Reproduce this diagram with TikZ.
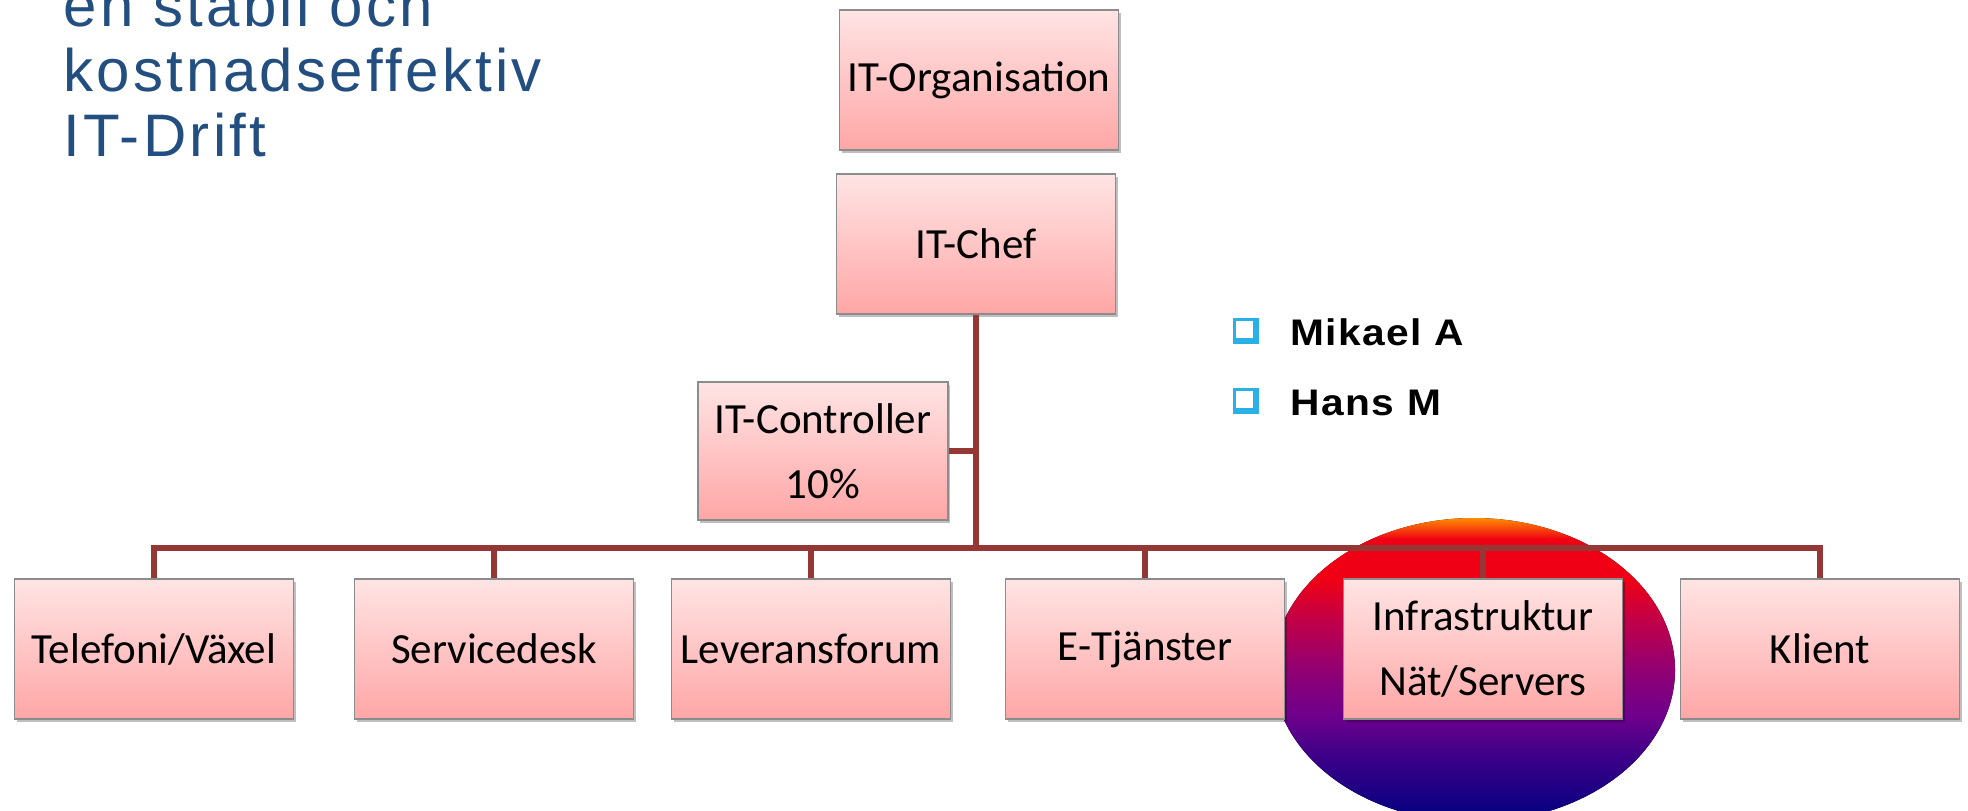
\documentclass[tikz,border=0pt]{standalone}
\usepackage{fontspec}
\setmainfont{Carlito}
\newfontfamily\titlefont[LetterSpace=5.5]{Liberation Sans}
\newfontfamily\namefont[LetterSpace=4,FakeStretch=1.1]{Liberation Sans}
\usetikzlibrary{positioning,shadows}
\tikzset{>=latex}
\usepackage{xcolor}
\definecolor{linkred}{RGB}{149,55,53}
\definecolor{boxtop}{RGB}{255,228,228}
\definecolor{boxbot}{RGB}{255,166,166}
\definecolor{titleblue}{RGB}{35,78,128}
\definecolor{bulletcyan}{RGB}{41,176,228}
\colorlet{boxline}{black!45}
\definecolor{focusA}{RGB}{255,140,0}
\definecolor{focusB}{RGB}{240,0,20}
\definecolor{focusC}{RGB}{195,0,70}
\definecolor{focusD}{RGB}{145,0,115}
\definecolor{focusE}{RGB}{110,0,140}
\definecolor{focusF}{RGB}{55,0,135}
\definecolor{focusG}{RGB}{0,0,128}
\pgfdeclareverticalshading{focus}{100bp}{color(0bp)=(focusG); color(25bp)=(focusG);
  color(35bp)=(focusF); color(42.5bp)=(focusE); color(50bp)=(focusD);
  color(58.5bp)=(focusC); color(65bp)=(focusB); color(71.5bp)=(focusB);
  color(75bp)=(focusA); color(100bp)=(focusA)}

\begin{document}
\begin{tikzpicture}[x=0.5pt, y=-0.5pt,
                    link/.style={linkred, line width=2.7pt},
                    unit/.style={draw=boxline, line width=0.7pt,
                                 top color=boxtop, bottom color=boxbot,
                                 minimum width=139.5pt, minimum height=70pt, inner sep=0pt,
                                 align=center, font=\fontsize{21.5}{32.5}\selectfont,
                                 drop shadow={shadow xshift=1pt, shadow yshift=-1.5pt,
                                              opacity=0.25, fill=black}},
                    title/.style={anchor=base west, inner sep=0pt, text=titleblue,
                                  font=\titlefont\fontsize{30}{36}\selectfont},
                    person/.style={anchor=base west, inner sep=0pt,
                                   font=\namefont\bfseries\fontsize{18.5}{20}\selectfont}]
  \useasboundingbox (0,0) rectangle (1968,810);
  \def\rowY{649}
  \def\busY{548}

  % title
  \node[title] (title1) at (63,26)  {en stabil och};
  \node[title] (title2) at (63,91)  {kostnadseffektiv};
  \node[title] (title3) at (63,156) {IT-Drift};

  % highlight behind Infrastruktur
  \fill[shading=focus] (1474,670) ellipse [x radius=100.5pt, y radius=76pt];

  % top of the tree
  \node[unit] (org)  at (979,80)  {IT-Organisation};
  \node[unit] (chef) at (976,244) {IT-Chef};
  \node[unit, minimum width=125pt, minimum height=69pt] (ctrl) at (823,451) {IT-Controller\\10\%};

  % units
  \foreach \name/\cx/\txt in {tele/154/{Telefoni/Växel}, serv/494/Servicedesk,
                              lev/811/Leveransforum, etj/1145/E-Tjänster,
                              infra/1483/{Infrastruktur\\Nät/Servers}, klient/1820/Klient}
    \node[unit] (\name) at (\cx,\rowY) {\txt};

  % connectors
  \coordinate (bus) at (976,\busY);
  \draw[link] (chef.south) -- (bus);
  \draw[link] (ctrl.east) -- (ctrl.east -| bus);
  \draw[link] (tele.north) -- (tele.north |- bus) -- (klient.north |- bus) -- (klient.north);
  \foreach \name in {serv,lev,etj,infra}
    \draw[link] (\name.north) -- (\name.north |- bus);

  % people
  \foreach \by in {331,401}{
    \fill[bulletcyan] (1233,\by-13) rectangle (1259,\by+13);
    \fill[white] (1236,\by-10) rectangle (1253,\by+7);
  }
  \node[person] (mikael) at (1290,345) {Mikael A};
  \node[person] (hans)   at (1290,415) {Hans M};
\end{tikzpicture}
\end{document}
